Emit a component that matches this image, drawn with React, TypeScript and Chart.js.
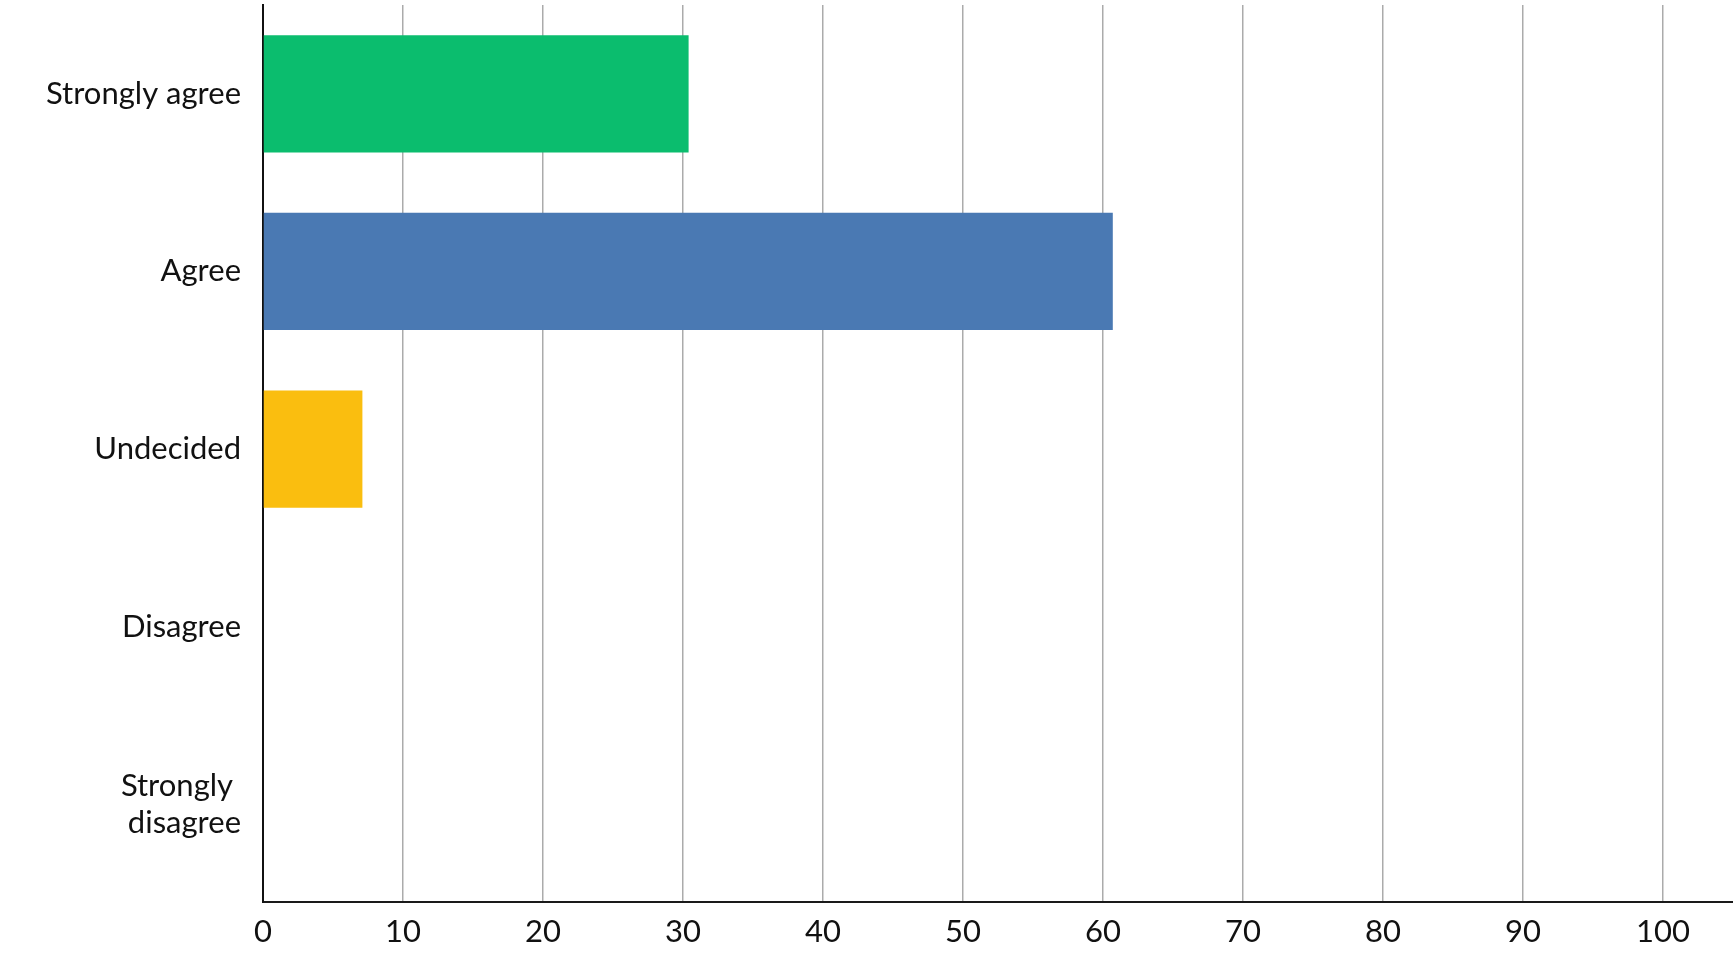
import React, { useEffect, useRef } from "react";
import { Chart, registerables } from "chart.js";

Chart.register(...registerables);

const categories: (string | string[])[] = [
  "Strongly agree",
  "Agree",
  "Undecided",
  "Disagree",
  ["Strongly ", "disagree"],
];
const values: number[] = [30.4, 60.7, 7.1, 0, 0];
const barColors: string[] = ["#0bbd6e", "#4a79b3", "#fabe0f", "#cccccc", "#cccccc"];
const xTicks: number[] = [0, 10, 20, 30, 40, 50, 60, 70, 80, 90, 100];

export default function App() {
  const ref = useRef<HTMLCanvasElement | null>(null);

  useEffect(() => {
    document.body.style.margin = "0";
    if (!ref.current) return;
    const points = values.map((v, i) => ({ x: v, y: i }));
    const chart = new Chart(ref.current, {
      type: "bar",
      data: {
        datasets: [
          {
            data: points,
            backgroundColor: barColors,
            borderWidth: 0,
            barPercentage: 0.66,
            categoryPercentage: 1,
          },
        ],
      },
      options: {
        indexAxis: "y",
        animation: false,
        responsive: false,
        maintainAspectRatio: false,
        layout: { padding: { top: 5, right: 0, left: 0, bottom: 0 } },
        plugins: {
          legend: { display: false },
          tooltip: { enabled: false },
        },
        scales: {
          x: {
            type: "linear",
            min: 0,
            max: 105,
            afterBuildTicks: (scale: any) => {
              scale.ticks = xTicks.map((v) => ({ value: v }));
            },
            afterFit: (scale: any) => {
              scale.height = 58;
              scale.paddingLeft = 0;
              scale.paddingRight = 0;
            },
            grid: {
              color: "#ababab",
              lineWidth: 1.5,
              drawTicks: false,
            },
            border: { display: true, color: "#1a1a1a", width: 2 },
            ticks: {
              color: "#111",
              padding: 11,
              font: { family: "Lato", size: 31 },
            },
          },
          y: {
            type: "linear",
            reverse: true,
            offset: false,
            min: -0.5,
            max: 4.55,
            afterBuildTicks: (scale: any) => {
              scale.ticks = categories.map((_, i) => ({ value: i }));
            },
            afterFit: (scale: any) => {
              scale.width = 263;
              scale.paddingTop = 0;
              scale.paddingBottom = 0;
            },
            grid: { display: false, drawTicks: false },
            border: { display: true, color: "#111", width: 2 },
            ticks: {
              color: "#111",
              padding: 22,
              font: { family: "Lato", size: 31 },
              callback: (value: any) => categories[Number(value)] ?? "",
            },
          },
        },
      },
    });
    return () => chart.destroy();
  }, []);

  return (
    <div style={{ position: "absolute", left: 0, top: 0, width: 1733, height: 960 }}>
      <canvas ref={ref} width={1733} height={960} style={{ width: 1733, height: 960 }} />
    </div>
  );
}
